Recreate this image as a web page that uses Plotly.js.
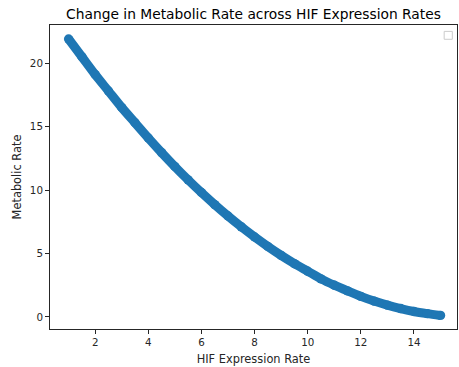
<!DOCTYPE html>
<html>
<head>
<meta charset="utf-8">
<script src="https://cdn.plot.ly/plotly-3.0.1.min.js"></script>
<style>html,body{margin:0;padding:0;background:#fff;}#chart{width:459px;height:367px;}</style>
</head>
<body>
<div id="chart"></div>
<script>
const hifRate = [1, 1.5, 2, 2.5, 3, 3.5, 4, 4.5, 5, 5.5, 6, 6.5, 7, 7.5, 8, 8.5, 9, 9.5, 10, 10.5, 11, 11.5, 12, 12.5, 13, 13.5, 14, 14.5, 15];
const metabolicRate = [21.9, 20.5, 19.1, 17.8, 16.5, 15.3, 14.1, 12.95, 11.85, 10.8, 9.8, 8.85, 7.95, 7.1, 6.3, 5.55, 4.85, 4.2, 3.6, 3.0, 2.5, 2.05, 1.62, 1.25, 0.93, 0.66, 0.43, 0.26, 0.12];
const xTicks = [2, 4, 6, 8, 10, 12, 14];
const yTicks = [0, 5, 10, 15, 20];

const font = "DejaVu Sans, sans-serif";
const trace = {
  x: hifRate, y: metabolicRate,
  type: 'scatter', mode: 'lines+markers',
  line: {color: '#1f77b4', width: 9, shape: 'spline', smoothing: 0.8},
  marker: {color: '#1f77b4', size: 9.4},
  showlegend: false, hoverinfo: 'skip'
};
const layout = {
  width: 459, height: 367,
  margin: {l: 50, r: 2, t: 25, b: 38},
  paper_bgcolor: '#fff', plot_bgcolor: '#fff',
  font: {family: font, size: 10, color: '#262626'},
  title: {text: 'Change in Metabolic Rate across HIF Expression Rates', x: 0.5, xref: 'paper', xanchor: 'center',
          y: 1, yref: 'paper', yanchor: 'bottom', pad: {b: 6}, font: {family: font, size: 13.8, color: '#000'}},
  xaxis: {range: [0.3, 15.62], tickvals: xTicks, ticktext: xTicks.map(String), showgrid: false, zeroline: false,
          showline: true, mirror: true, linecolor: '#262626', linewidth: 1, ticks: 'outside', ticklen: 4, tickcolor: '#262626',
          tickfont: {size: 10.3}, title: {text: 'HIF Expression Rate', font: {size: 11.4}, standoff: 7}},
  yaxis: {range: [-0.95, 23.0], tickvals: yTicks, ticktext: yTicks.map(String), showgrid: false, zeroline: false,
          showline: true, mirror: true, linecolor: '#262626', linewidth: 1, ticks: 'outside', ticklen: 4, tickcolor: '#262626',
          tickfont: {size: 10.3}, title: {text: 'Metabolic Rate', font: {size: 11.4}, standoff: 5}},
  shapes: [{type: 'rect', xref: 'paper', yref: 'paper', x0: 0.9685, x1: 0.9885, y0: 0.953, y1: 0.979,
            line: {color: '#cccccc', width: 1}, fillcolor: 'rgba(255,255,255,0.8)'}]
};
Plotly.newPlot('chart', [trace], layout, {staticPlot: true, displayModeBar: false});
</script>
</body>
</html>
